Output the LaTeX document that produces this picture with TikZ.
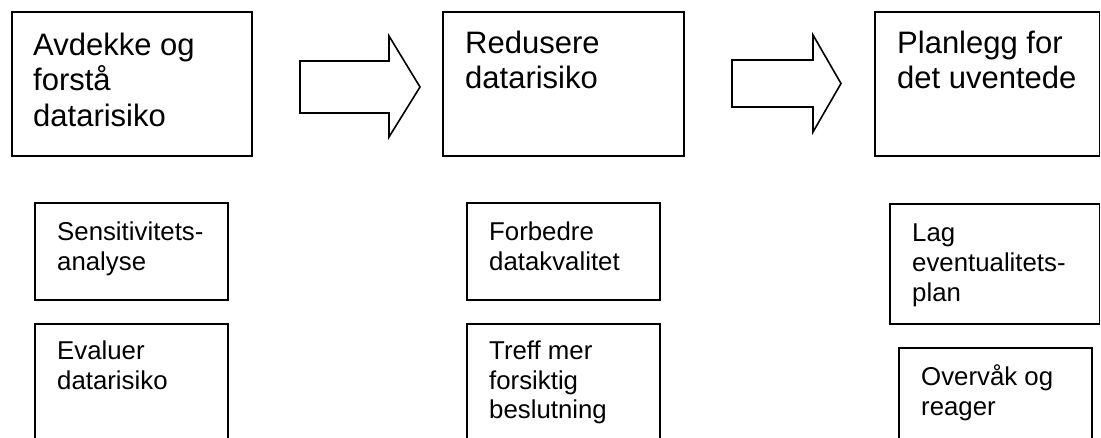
\documentclass[tikz,border=0pt]{standalone}
\usepackage{fontspec}
\setmainfont{Liberation Sans}
\begin{document}
\begin{tikzpicture}[x=1pt,y=-1pt,
  boxline/.style={draw=black, line width=1.6pt},
  bigtext/.style={inner sep=0pt, anchor=north west, align=left, font=\fontsize{31}{35.6}\selectfont},
  smalltext/.style={inner sep=0pt, anchor=north west, align=left, font=\fontsize{25.8}{29.7}\selectfont},
  blockarrow/.style={draw=black, line width=1.6pt, fill=white, line join=miter}]
\useasboundingbox (0,0) rectangle (1101,438);
\clip (0,0) rectangle (1101,438);
\fill[white] (0,0) rectangle (1101,438);

% top boxes
\draw[boxline] (12,12) rectangle (252,156);
\node[bigtext] (t1) at (33,32.4) {Avdekke og\\forstå\\datarisiko};
\draw[boxline] (443,12) rectangle (684,156);
\node[bigtext] (t2) at (465,30.6) {Redusere\\datarisiko};
\draw[boxline] (875,12) rectangle (1099.5,156);
\node[bigtext] (t3) at (897,30.6) {Planlegg for\\det uventede};

% block arrows
\draw[blockarrow] (300,61) -- (389,61) -- (389,36) -- (420,87) -- (389,137) -- (389,113) -- (300,113) -- cycle;
\draw[blockarrow] (732,60) -- (813,60) -- (813,35) -- (841,83.5) -- (813,132) -- (813,107) -- (732,107) -- cycle;

% bottom boxes column 1
\draw[boxline] (35,203) rectangle (228,300);
\node[smalltext] (s1) at (57,221.5) {Sensitivitets-\\analyse};
\draw[boxline] (35,324) rectangle (228,450);
\node[smalltext] (s2) at (57,340.5) {Evaluer\\datarisiko};

% column 2
\draw[boxline] (467,203) rectangle (660,300);
\node[smalltext] (s3) at (489,221.5) {Forbedre\\datakvalitet};
\draw[boxline] (467,324) rectangle (660,450);
\node[smalltext] (s4) at (489,340.5) {Treff mer\\forsiktig\\beslutning};

% column 3
\draw[boxline] (890,204) rectangle (1099.5,324);
\node[smalltext] (s5) at (912,224) {Lag\\eventualitets-\\plan};
\draw[boxline] (899,348) rectangle (1092,450);
\node[smalltext] (s6) at (921,364.5) {Overvåk og\\reager};
\end{tikzpicture}
\end{document}
